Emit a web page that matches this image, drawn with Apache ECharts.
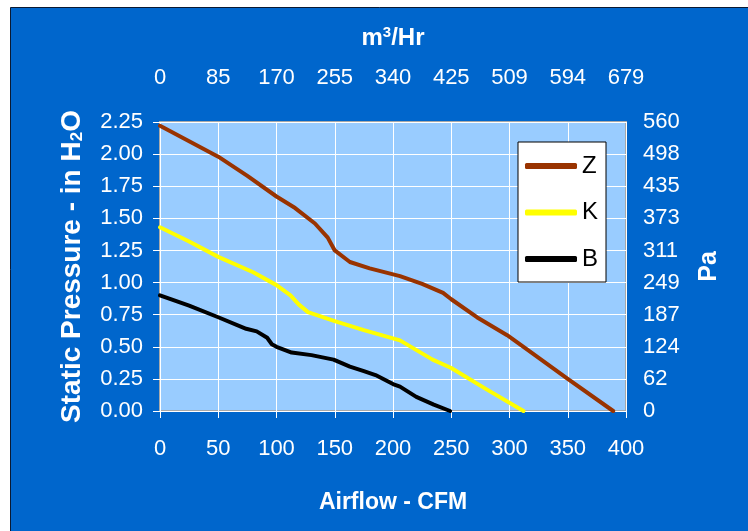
<!DOCTYPE html>
<html>
<head>
<meta charset="utf-8">
<script src="https://cdn.jsdelivr.net/npm/echarts@6/dist/echarts.min.js"></script>
<style>
  html, body { margin: 0; padding: 0; background: #ffffff; }
  #chart { width: 748px; height: 531px; }
</style>
</head>
<body>
<div id="chart"></div>
<script>
// Fan performance curves: static pressure vs. airflow for three models.
const zFlow = [0, 25, 50, 75, 100, 116, 133, 144, 150, 163, 180, 206, 225, 243, 250, 272, 298, 315, 350, 389];
const zPressure = [2.22, 2.10, 1.98, 1.83, 1.67, 1.58, 1.46, 1.35, 1.25, 1.16, 1.11, 1.05, 0.99, 0.92, 0.87, 0.73, 0.59, 0.48, 0.25, 0];

const kFlow = [0, 25, 50, 80, 100, 112, 119, 127, 150, 175, 206, 234, 250, 280, 312];
const kPressure = [1.43, 1.32, 1.20, 1.08, 0.98, 0.90, 0.83, 0.77, 0.70, 0.63, 0.55, 0.40, 0.335, 0.17, 0];

const bFlow = [0, 25, 50, 74, 83, 92, 96, 100, 113, 130, 149, 163, 175, 185, 200, 206, 220, 235, 249];
const bPressure = [0.90, 0.82, 0.73, 0.64, 0.62, 0.57, 0.52, 0.50, 0.455, 0.435, 0.40, 0.345, 0.31, 0.28, 0.21, 0.19, 0.11, 0.05, 0];

// Secondary unit labels (m3/Hr on top, Pa on the right)
const m3hrLabels = ['0', '85', '170', '255', '340', '425', '509', '594', '679'];
const paLabels = ['0', '62', '124', '187', '249', '311', '373', '435', '498', '560'];

const FONT = "'Liberation Sans', Arial, sans-serif";
const WHITE = '#ffffff';

function zip(xs, ys) { return xs.map((x, i) => [x, ys[i]]); }

const labelStyle = { color: WHITE, fontFamily: FONT, fontSize: 22 };
function nameStyle(size, lh) {
  return {
    color: WHITE, fontFamily: FONT, fontSize: size, fontWeight: 'bold', lineHeight: lh,
    rich: {
      sub: { color: WHITE, fontFamily: FONT, fontSize: Math.round(size * 0.62), fontWeight: 'bold', verticalAlign: 'bottom', lineHeight: lh },
      sup: { color: WHITE, fontFamily: FONT, fontSize: Math.round(size * 0.62), fontWeight: 'bold', verticalAlign: 'top', lineHeight: lh }
    }
  };
}
const tick = { show: true, inside: false, length: 7, lineStyle: { color: WHITE, width: 1 } };

const chart = echarts.init(document.getElementById('chart'), null, { renderer: 'canvas' });

chart.setOption({
  backgroundColor: '#ffffff',
  animation: false,
  graphic: [{
    type: 'rect', z: -100, silent: true,
    shape: { x: 10.5, y: 7.5, width: 760, height: 540 },
    style: { fill: '#0066CC', stroke: '#0a1a33', lineWidth: 1 }
  }],
  grid: {
    left: 160, top: 122, width: 466, height: 289,
    outerBoundsMode: 'none', containLabel: false,
    show: true, backgroundColor: '#99CCFF', borderColor: '#A9A9A9', borderWidth: 2
  },
  legend: {
    orient: 'vertical', left: 518, top: 142,
    padding: [12, 8, 11, 7], itemGap: 22.5,
    itemWidth: 52, itemHeight: 6, icon: 'roundRect',
    backgroundColor: '#ffffff', borderColor: '#000000', borderWidth: 1, borderRadius: 0,
    textStyle: { color: '#000000', fontFamily: FONT, fontSize: 24 },
    data: ['Z', 'K', 'B']
  },
  xAxis: [{
    type: 'value', position: 'bottom', min: 0, max: 400, interval: 50,
    axisLine: { show: false }, axisTick: tick,
    axisLabel: Object.assign({ margin: 27 }, labelStyle),
    splitLine: { show: true, lineStyle: { color: WHITE, width: 1 } },
    name: 'Airflow - CFM', nameLocation: 'middle', nameGap: 79, nameTextStyle: nameStyle(23, 26)
  }, {
    type: 'value', position: 'top', min: 0, max: 400, interval: 50,
    axisLine: { show: false }, axisTick: tick,
    axisLabel: Object.assign({ margin: 33, formatter: (v) => m3hrLabels[Math.round(v / 50)] }, labelStyle),
    splitLine: { show: false },
    name: 'm{sup|3}/Hr', nameLocation: 'middle', nameGap: 71, nameTextStyle: nameStyle(24, 26)
  }],
  yAxis: [{
    type: 'value', position: 'left', min: 0, max: 2.25, interval: 0.25,
    axisLine: { show: false }, axisTick: tick,
    axisLabel: Object.assign({ margin: 17, formatter: (v) => v.toFixed(2) }, labelStyle),
    splitLine: { show: true, lineStyle: { color: WHITE, width: 1 } },
    name: 'Static Pressure - in H{sub|2}O', nameLocation: 'middle', nameGap: 74, nameRotate: 90,
    nameTextStyle: nameStyle(28, 28)
  }, {
    type: 'value', position: 'right', min: 0, max: 2.25, interval: 0.25,
    axisLine: { show: false }, axisTick: tick,
    axisLabel: Object.assign({ margin: 17, formatter: (v) => paLabels[Math.round(v / 0.25)] }, labelStyle),
    splitLine: { show: false },
    name: 'Pa', nameLocation: 'middle', nameGap: 70, nameRotate: 90, nameTextStyle: nameStyle(25, 26)
  }],
  series: [
    { name: 'Z', type: 'line', data: zip(zFlow, zPressure), color: '#993300', symbol: 'none',
      lineStyle: { width: 4, color: '#993300', cap: 'round', join: 'round' }, z: 5 },
    { name: 'K', type: 'line', data: zip(kFlow, kPressure), color: '#FFFF00', symbol: 'none',
      lineStyle: { width: 4, color: '#FFFF00', cap: 'round', join: 'round' }, z: 4 },
    { name: 'B', type: 'line', data: zip(bFlow, bPressure), color: '#000000', symbol: 'none',
      lineStyle: { width: 4, color: '#000000', cap: 'round', join: 'round' }, z: 3 }
  ]
});
</script>
</body>
</html>
